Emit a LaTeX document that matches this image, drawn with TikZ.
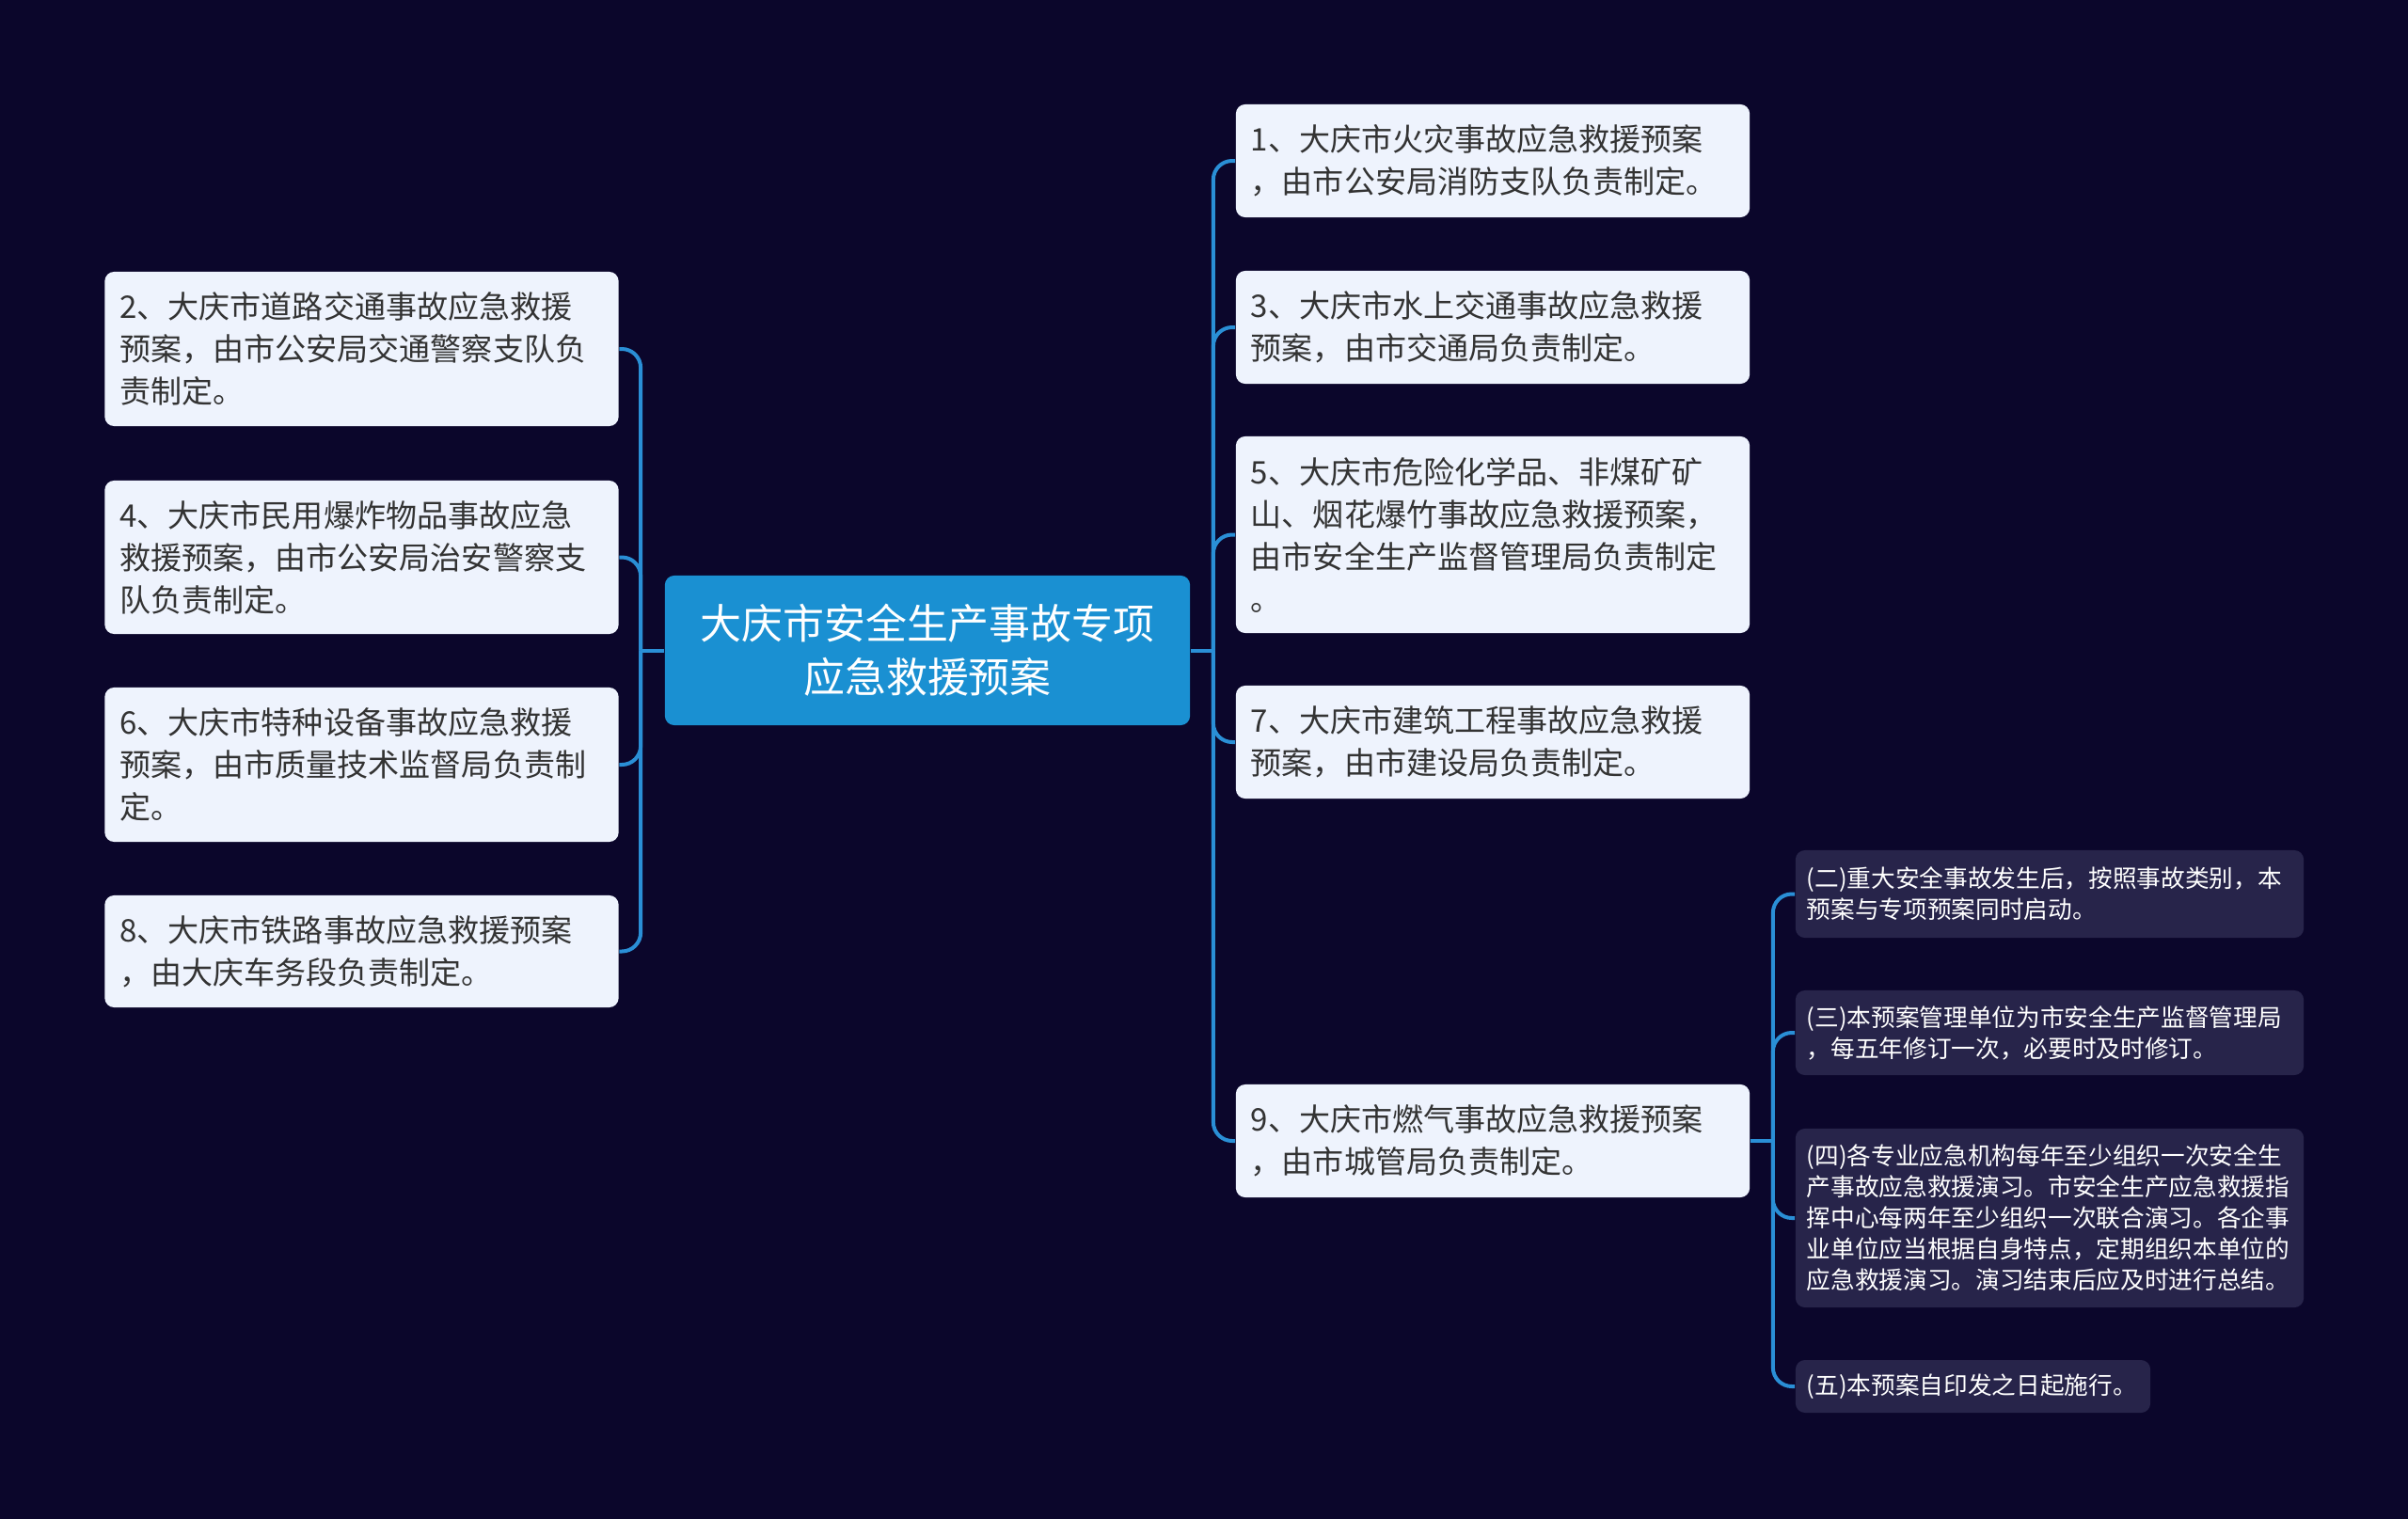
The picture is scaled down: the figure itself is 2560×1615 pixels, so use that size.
\documentclass[tikz,border=0pt]{standalone}
\usepackage{fontspec}
\setmainfont{Noto Sans CJK SC}
\definecolor{bgnavy}{HTML}{0B062B}
\definecolor{linkblue}{HTML}{2A8FD6}
\definecolor{rootblue}{HTML}{1A90D2}
\definecolor{leaffill}{HTML}{EEF3FD}
\definecolor{subfill}{HTML}{27244A}
\definecolor{leaftext}{HTML}{333333}

\begin{document}
\begin{tikzpicture}[x=0.01cm, y=-0.01cm,
	link/.style={draw=linkblue, line width=0.04cm, rounded corners=0.2cm},
	root/.style={fill=rootblue, rounded corners=0.1cm, text=white, align=center, minimum width=5.58cm, minimum height=1.59cm, font=\fontsize{12.5pt}{16.2pt}\selectfont},
	leaf/.style={fill=leaffill, rounded corners=0.1cm, text=leaftext, align=left, text width=5.14cm, inner xsep=0.16cm, inner ysep=0pt, font=\fontsize{9.4pt}{12.8pt}\selectfont},
	subleaf/.style={fill=subfill, rounded corners=0.1cm, text=white, align=left, text width=5.16cm, inner xsep=0.12cm, inner ysep=0pt, font=\fontsize{7.3pt}{9.4pt}\selectfont}]
				% Background
				\fill[bgnavy] (0,0) rectangle (2560,1615);
				
				% Root
				\node[root] (root) at (986,691.5) {大庆市安全生产事故专项\\应急救援预案};
				
				% Left plans
				\node[leaf, minimum height=1.64cm] (n2) at (384.5,371) {2、大庆市道路交通事故应急救援\\预案，由市公安局交通警察支队负\\责制定。};
				\node[leaf, minimum height=1.63cm] (n4) at (384.5,592.5) {4、大庆市民用爆炸物品事故应急\\救援预案，由市公安局治安警察支\\队负责制定。};
				\node[leaf, minimum height=1.64cm] (n6) at (384.5,813) {6、大庆市特种设备事故应急救援\\预案，由市质量技术监督局负责制\\定。};
				\node[leaf, minimum height=1.19cm] (n8) at (384.5,1011.5) {8、大庆市铁路事故应急救援预案\\，由大庆车务段负责制定。};
				
				% Right plans
				\node[leaf, minimum height=1.20cm] (n1) at (1587,171) {1、大庆市火灾事故应急救援预案\\，由市公安局消防支队负责制定。};
				\node[leaf, minimum height=1.20cm] (n3) at (1587,348) {3、大庆市水上交通事故应急救援\\预案，由市交通局负责制定。};
				\node[leaf, minimum height=2.09cm] (n5) at (1587,568.5) {5、大庆市危险化学品、非煤矿矿\\山、烟花爆竹事故应急救援预案，\\由市安全生产监督管理局负责制定\\。};
				\node[leaf, minimum height=1.20cm] (n7) at (1587,789) {7、大庆市建筑工程事故应急救援\\预案，由市建设局负责制定。};
				\node[leaf, minimum height=1.20cm] (n9) at (1587,1213) {9、大庆市燃气事故应急救援预案\\，由市城管局负责制定。};
				
				% Rules under 9
				\node[subleaf, minimum height=0.93cm] (s2) at (2179,950.5) {(二)重大安全事故发生后，按照事故类别，本\\预案与专项预案同时启动。};
				\node[subleaf, minimum height=0.90cm] (s3) at (2179,1098) {(三)本预案管理单位为市安全生产监督管理局\\，每五年修订一次，必要时及时修订。};
				\node[subleaf, minimum height=1.90cm] (s4) at (2179,1295) {(四)各专业应急机构每年至少组织一次安全生\\产事故应急救援演习。市安全生产应急救援指\\挥中心每两年至少组织一次联合演习。各企事\\业单位应当根据自身特点，定期组织本单位的\\应急救援演习。演习结束后应及时进行总结。};
				\node[subleaf, text width=3.53cm, minimum height=0.56cm] (s5) at (2097.5,1474) {(五)本预案自印发之日起施行。};
				
				% Links left
				\path (root.west) ++(-25,0) coordinate (lj);
				\draw[link] (root.west) -- (lj);
				\draw[link] (lj) |- (n2.east);
				\draw[link] (lj) |- (n4.east);
				\draw[link] (lj) |- (n6.east);
				\draw[link] (lj) |- (n8.east);
				
				% Links right
				\path (root.east) ++(24,0) coordinate (rj);
				\draw[link] (root.east) -- (rj);
				\draw[link] (rj) |- (n1.west);
				\draw[link] (rj) |- (n3.west);
				\draw[link] (rj) |- (n5.west);
				\draw[link] (rj) |- (n7.west);
				\draw[link] (rj) |- (n9.west);
				
				% Links under 9
				\path (n9.east) ++(24,0) coordinate (sj);
				\draw[link] (n9.east) -- (sj);
				\draw[link] (sj) |- (s2.west);
				\draw[link] (sj) |- (s3.west);
				\draw[link] (sj) |- (s4.west);
				\draw[link] (sj) |- (s5.west);
			\end{tikzpicture}
\end{document}
